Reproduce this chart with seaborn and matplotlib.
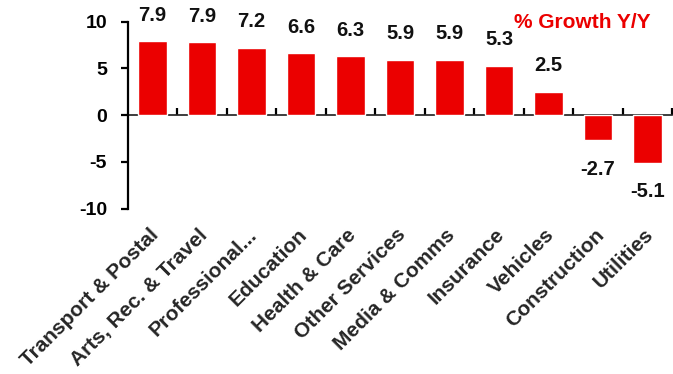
import matplotlib
matplotlib.use("Agg")
import matplotlib.pyplot as plt
import matplotlib.transforms as mtransforms
import seaborn as sns
import pandas as pd

categories = ["Transport & Postal", "Arts, Rec. & Travel", "Professional...",
              "Education", "Health & Care", "Other Services", "Media & Comms",
              "Insurance", "Vehicles", "Construction", "Utilities"]
values = [7.9, 7.8, 7.2, 6.6, 6.3, 5.9, 5.9, 5.3, 2.5, -2.7, -5.1]
value_labels = ["7.9", "7.9", "7.2", "6.6", "6.3", "5.9", "5.9", "5.3", "2.5", "-2.7", "-5.1"]
y_ticks = [-10, -5, 0, 5, 10]
title = "% Growth Y/Y"

sns.set_theme(style="white")
plt.rcParams["font.family"] = ["Liberation Sans", "DejaVu Sans"]
plt.rcParams["font.weight"] = "bold"

RED = "#EB0000"
df = pd.DataFrame({"cat": categories, "val": values})

fig = plt.figure(figsize=(6.73, 3.74), dpi=100)
ax = fig.add_axes([0.190, 0.4425, 0.809, 0.4995])

sns.barplot(data=df, x="cat", y="val", color=RED, width=0.58, saturation=1,
            ax=ax, order=categories)

ax.set_xlim(-0.5, len(categories) - 0.5)
ax.set_ylim(-10, 10)
ax.set_yticks(y_ticks)
ax.set_yticklabels([str(t) for t in y_ticks], fontsize=14, fontweight="bold")
ax.set_xlabel("")
ax.set_ylabel("")

for s in ["top", "right"]:
    ax.spines[s].set_visible(False)
ax.spines["left"].set_linewidth(1.6)
ax.spines["left"].set_color("black")
ax.spines["bottom"].set_visible(False)
ax.tick_params(axis="y", direction="out", length=5, width=1.6, pad=10, colors="black", left=True)

# category labels at the bottom
ax.set_xticks(range(len(categories)))
ax.set_xticklabels(categories, rotation=45, ha="right", va="top",
                   rotation_mode="anchor", fontsize=15, fontweight="bold")
ax.tick_params(axis="x", length=0, pad=12, bottom=True)
shift = mtransforms.ScaledTranslation(-4 / 100, 0, fig.dpi_scale_trans)
for lbl in ax.get_xticklabels():
    lbl.set_transform(lbl.get_transform() + shift)

# zero axis with ticks between categories
zx = ax.secondary_xaxis(0.5)
zx.spines["bottom"].set_linewidth(1.6)
zx.spines["bottom"].set_color("black")
zx.set_xticks([i + 0.5 for i in range(len(categories))])
zx.set_xticklabels([])
zx.tick_params(axis="x", direction="out", length=5, width=1.6, colors="black")

for i, (v, lab) in enumerate(zip(values, value_labels)):
    off = 12 if v >= 0 else -14
    ax.annotate(lab, xy=(i, v), xytext=(0, off), textcoords="offset points",
                ha="center", va="bottom" if v >= 0 else "top",
                fontsize=14.5, fontweight="bold", color="#111111")

ax.text(0.961, 0.995, title, transform=ax.transAxes, ha="right", va="center",
        color=RED, fontsize=15, fontweight="bold")

fig.savefig("out.png", dpi=100)
